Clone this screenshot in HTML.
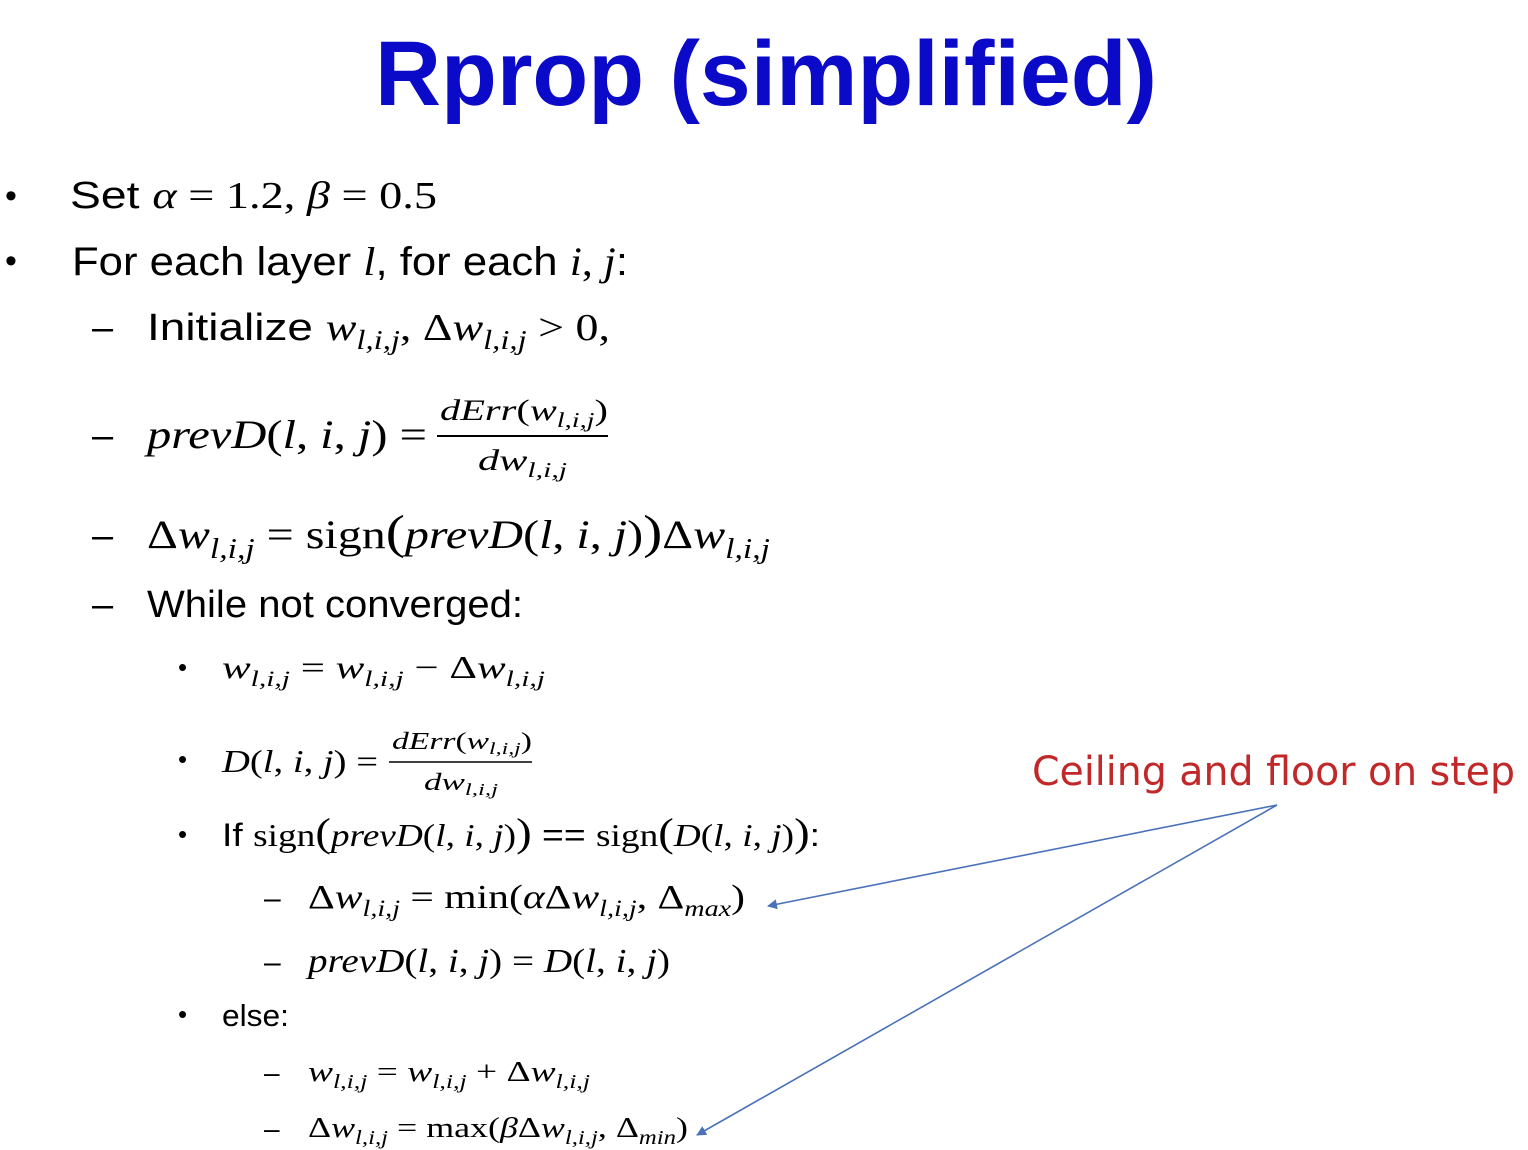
<!DOCTYPE html>
<html><head><meta charset="utf-8"><style>
html,body{margin:0;padding:0;background:#fff;}
svg{display:block}
.s{font-family:"Liberation Sans",sans-serif;fill:#000}
.m{font-family:"Liberation Serif",serif;fill:#000}
.i{font-style:italic}
</style></head><body>
<svg width="1528" height="1150" viewBox="0 0 1528 1150" xmlns="http://www.w3.org/2000/svg">
<text x="375" y="105" font-family="Liberation Sans,sans-serif" font-weight="bold" font-size="92" fill="#0a0ac8" textLength="782" lengthAdjust="spacingAndGlyphs">Rprop (simplified)</text>

<text class="s" x="5" y="207" font-size="34">•</text>
<text x="70" y="208" font-size="38" textLength="367" lengthAdjust="spacingAndGlyphs"><tspan class="s">Set </tspan><tspan class="m i">α</tspan><tspan class="m"> = 1.2, </tspan><tspan class="m i">β</tspan><tspan class="m"> = 0.5</tspan></text>

<text class="s" x="5" y="272" font-size="34">•</text>
<text x="72" y="275" font-size="40" textLength="556" lengthAdjust="spacingAndGlyphs"><tspan class="s">For each layer </tspan><tspan class="m i">l</tspan><tspan class="s">, for each </tspan><tspan class="m i">i</tspan><tspan class="m">, </tspan><tspan class="m i">j</tspan><tspan class="s">:</tspan></text>

<text class="s" x="92" y="340" font-size="38">–</text>
<text x="147" y="340" font-size="38" textLength="463" lengthAdjust="spacingAndGlyphs"><tspan class="s">Initialize </tspan><tspan class="m i">w</tspan><tspan class="m i" font-size="27" dy="9">l,i,j</tspan><tspan class="m" dy="-9">, Δ</tspan><tspan class="m i">w</tspan><tspan class="m i" font-size="27" dy="9">l,i,j</tspan><tspan class="m" dy="-9"> &gt; 0,</tspan></text>

<text class="s" x="92" y="448" font-size="38">–</text>
<text x="147" y="448" font-size="40" textLength="280" lengthAdjust="spacingAndGlyphs"><tspan class="m i">prevD</tspan><tspan class="m">(</tspan><tspan class="m i">l</tspan><tspan class="m">, </tspan><tspan class="m i">i</tspan><tspan class="m">, </tspan><tspan class="m i">j</tspan><tspan class="m">) =</tspan></text>
<text x="440" y="420" font-size="30" textLength="168" lengthAdjust="spacingAndGlyphs"><tspan class="m i">dErr</tspan><tspan class="m">(</tspan><tspan class="m i">w</tspan><tspan class="m i" font-size="21" dy="7">l,i,j</tspan><tspan class="m" dy="-7">)</tspan></text>
<line x1="437" y1="436" x2="608" y2="436" stroke="#000" stroke-width="2"/>
<text x="478" y="470" font-size="30" textLength="89" lengthAdjust="spacingAndGlyphs"><tspan class="m i">dw</tspan><tspan class="m i" font-size="21" dy="7">l,i,j</tspan></text>

<text class="s" x="92" y="548" font-size="38">–</text>
<text x="147" y="548" font-size="40" textLength="623" lengthAdjust="spacingAndGlyphs"><tspan class="m">Δ</tspan><tspan class="m i">w</tspan><tspan class="m i" font-size="28" dy="10">l,i,j</tspan><tspan class="m" dy="-10"> = sign</tspan><tspan class="m" font-size="48">(</tspan><tspan class="m i">prevD</tspan><tspan class="m">(</tspan><tspan class="m i">l</tspan><tspan class="m">, </tspan><tspan class="m i">i</tspan><tspan class="m">, </tspan><tspan class="m i">j</tspan><tspan class="m">)</tspan><tspan class="m" font-size="48">)</tspan><tspan class="m">Δ</tspan><tspan class="m i">w</tspan><tspan class="m i" font-size="28" dy="10">l,i,j</tspan></text>

<text class="s" x="92" y="617" font-size="38">–</text>
<text class="s" x="147" y="617" font-size="38" textLength="376" lengthAdjust="spacingAndGlyphs">While not converged:</text>

<text class="s" x="178" y="676" font-size="26">•</text>
<text x="222" y="678" font-size="32" textLength="323" lengthAdjust="spacingAndGlyphs"><tspan class="m i">w</tspan><tspan class="m i" font-size="22" dy="8">l,i,j</tspan><tspan class="m" dy="-8"> = </tspan><tspan class="m i">w</tspan><tspan class="m i" font-size="22" dy="8">l,i,j</tspan><tspan class="m" dy="-8"> − Δ</tspan><tspan class="m i">w</tspan><tspan class="m i" font-size="22" dy="8">l,i,j</tspan></text>

<text class="s" x="178" y="768" font-size="26">•</text>
<text x="222" y="772" font-size="32" textLength="156" lengthAdjust="spacingAndGlyphs"><tspan class="m i">D</tspan><tspan class="m">(</tspan><tspan class="m i">l</tspan><tspan class="m">, </tspan><tspan class="m i">i</tspan><tspan class="m">, </tspan><tspan class="m i">j</tspan><tspan class="m">) =</tspan></text>
<text x="392" y="749" font-size="24" textLength="140" lengthAdjust="spacingAndGlyphs"><tspan class="m i">dErr</tspan><tspan class="m">(</tspan><tspan class="m i">w</tspan><tspan class="m i" font-size="17" dy="5">l,i,j</tspan><tspan class="m" dy="-5">)</tspan></text>
<line x1="389" y1="762" x2="532" y2="762" stroke="#000" stroke-width="1.6"/>
<text x="424" y="790" font-size="24" textLength="74" lengthAdjust="spacingAndGlyphs"><tspan class="m i">dw</tspan><tspan class="m i" font-size="17" dy="5">l,i,j</tspan></text>

<text class="s" x="178" y="843" font-size="26">•</text>
<text x="222" y="846" font-size="32" textLength="598" lengthAdjust="spacingAndGlyphs"><tspan class="s">If </tspan><tspan class="m">sign</tspan><tspan class="m" font-size="40">(</tspan><tspan class="m i">prevD</tspan><tspan class="m">(</tspan><tspan class="m i">l</tspan><tspan class="m">, </tspan><tspan class="m i">i</tspan><tspan class="m">, </tspan><tspan class="m i">j</tspan><tspan class="m">)</tspan><tspan class="m" font-size="40">)</tspan><tspan class="s"> == </tspan><tspan class="m">sign</tspan><tspan class="m" font-size="40">(</tspan><tspan class="m i">D</tspan><tspan class="m">(</tspan><tspan class="m i">l</tspan><tspan class="m">, </tspan><tspan class="m i">i</tspan><tspan class="m">, </tspan><tspan class="m i">j</tspan><tspan class="m">)</tspan><tspan class="m" font-size="40">)</tspan><tspan class="s">:</tspan></text>

<text class="s" x="264" y="908" font-size="30">–</text>
<text x="308" y="908" font-size="34" textLength="437" lengthAdjust="spacingAndGlyphs"><tspan class="m">Δ</tspan><tspan class="m i">w</tspan><tspan class="m i" font-size="23" dy="8">l,i,j</tspan><tspan class="m" dy="-8"> = min(</tspan><tspan class="m i">α</tspan><tspan class="m">Δ</tspan><tspan class="m i">w</tspan><tspan class="m i" font-size="23" dy="8">l,i,j</tspan><tspan class="m" dy="-8">, Δ</tspan><tspan class="m i" font-size="23" dy="8">max</tspan><tspan class="m" dy="-8">)</tspan></text>

<text class="s" x="264" y="972" font-size="30">–</text>
<text x="308" y="972" font-size="34" textLength="362" lengthAdjust="spacingAndGlyphs"><tspan class="m i">prevD</tspan><tspan class="m">(</tspan><tspan class="m i">l</tspan><tspan class="m">, </tspan><tspan class="m i">i</tspan><tspan class="m">, </tspan><tspan class="m i">j</tspan><tspan class="m">) = </tspan><tspan class="m i">D</tspan><tspan class="m">(</tspan><tspan class="m i">l</tspan><tspan class="m">, </tspan><tspan class="m i">i</tspan><tspan class="m">, </tspan><tspan class="m i">j</tspan><tspan class="m">)</tspan></text>

<text class="s" x="178" y="1023" font-size="26">•</text>
<text class="s" x="222" y="1026" font-size="31" textLength="67" lengthAdjust="spacingAndGlyphs">else:</text>

<text class="s" x="264" y="1082" font-size="28">–</text>
<text x="308" y="1081" font-size="29" textLength="282" lengthAdjust="spacingAndGlyphs"><tspan class="m i">w</tspan><tspan class="m i" font-size="20" dy="7">l,i,j</tspan><tspan class="m" dy="-7"> = </tspan><tspan class="m i">w</tspan><tspan class="m i" font-size="20" dy="7">l,i,j</tspan><tspan class="m" dy="-7"> + Δ</tspan><tspan class="m i">w</tspan><tspan class="m i" font-size="20" dy="7">l,i,j</tspan></text>

<text class="s" x="264" y="1138" font-size="28">–</text>
<text x="308" y="1137" font-size="29" textLength="380" lengthAdjust="spacingAndGlyphs"><tspan class="m">Δ</tspan><tspan class="m i">w</tspan><tspan class="m i" font-size="20" dy="7">l,i,j</tspan><tspan class="m" dy="-7"> = max(</tspan><tspan class="m i">β</tspan><tspan class="m">Δ</tspan><tspan class="m i">w</tspan><tspan class="m i" font-size="20" dy="7">l,i,j</tspan><tspan class="m" dy="-7">, Δ</tspan><tspan class="m i" font-size="20" dy="7">min</tspan><tspan class="m" dy="-7">)</tspan></text>

<text x="1032" y="785" font-family="DejaVu Sans,sans-serif" font-size="40" fill="#c0282a" textLength="483" lengthAdjust="spacingAndGlyphs">Ceiling and floor on step</text>
<defs><marker id="a" markerWidth="10" markerHeight="10" refX="9" refY="5" orient="auto" markerUnits="userSpaceOnUse"><path d="M0,0 L10,5 L0,10 z" fill="#4a72b8"/></marker></defs>
<line x1="1277" y1="805" x2="768" y2="906" stroke="#4a72b8" stroke-width="1.6" marker-end="url(#a)"/>
<line x1="1277" y1="805" x2="697" y2="1135" stroke="#4a72b8" stroke-width="1.6" marker-end="url(#a)"/>
</svg>
</body></html>
